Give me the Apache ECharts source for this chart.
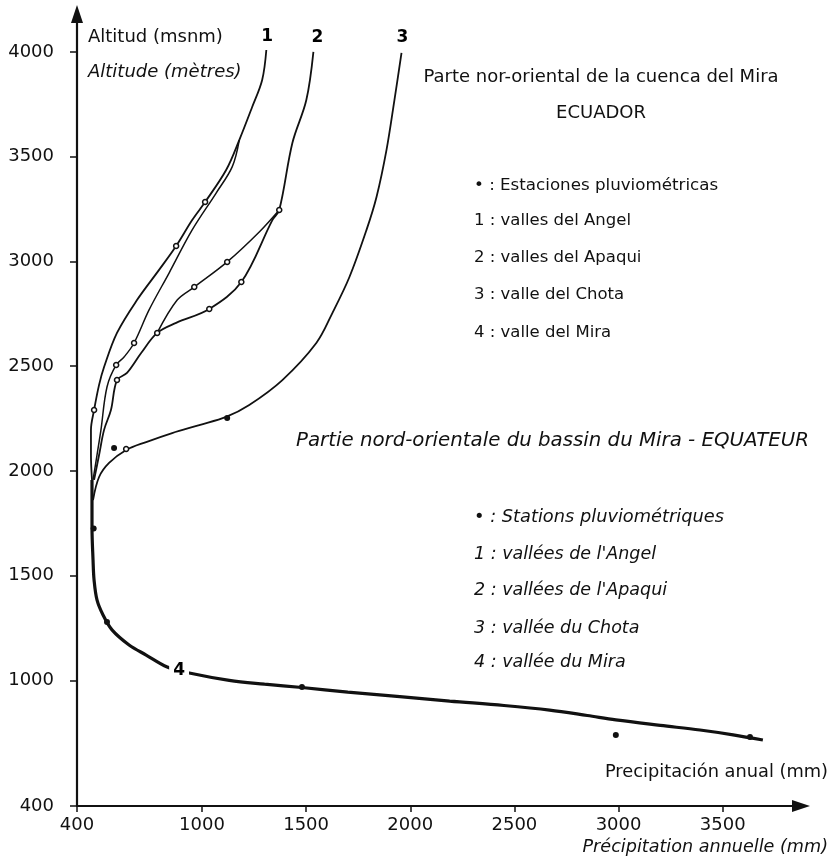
<!DOCTYPE html>
<html>
<head>
<meta charset="utf-8">
<script src="https://cdn.jsdelivr.net/npm/echarts@6/dist/echarts.min.js"></script>
<style>html,body{margin:0;padding:0;background:#fff}#c{width:837px;height:858px}</style>
</head>
<body>
<div id="c"></div>
<script>
// ---- data (precipitation mm, altitude m) ----
const xTicks = [400, 1000, 1500, 2000, 2500, 3000, 3500];
const yTicks = [400, 1000, 1500, 2000, 2500, 3000, 3500, 4000];

const curve1 = [[472,1957],[467,2076],[467,2196],[482,2291],[506,2411],[530,2496],[592,2659],[688,2816],[794,2960],[876,3074],[953,3198],[1015,3284],[1116,3437],[1179,3580],[1241,3738],[1289,3867],[1309,4010]];
const curve1b = [[477,1957],[496,2076],[515,2196],[544,2401],[588,2506],[626,2544],[674,2611],[746,2769],[842,2945],[953,3151],[1068,3327],[1145,3452],[1179,3580]];
const curve2 = [[482,1957],[506,2076],[530,2196],[563,2291],[592,2434],[640,2468],[708,2563],[785,2659],[876,2707],[1035,2773],[1189,2902],[1338,3198],[1371,3246],[1434,3566],[1501,3771],[1535,4001]];
const curve2b = [[785,2659],[881,2816],[963,2878],[1121,2998],[1275,3141],[1371,3246]];
const curve3 = [[477,1861],[506,1971],[554,2038],[636,2100],[732,2138],[857,2181],[987,2219],[1116,2258],[1227,2315],[1386,2434],[1549,2611],[1626,2754],[1708,2926],[1790,3151],[1838,3308],[1886,3533],[1924,3771],[1958,3996]];
const curve4 = [[472,1957],[472,1732],[477,1575],[482,1479],[496,1384],[525,1312],[568,1241],[650,1169],[732,1121],[833,1064],[939,1035],[1131,1000],[1300,982],[1480,966],[1700,944],[1950,922],[2189,901],[2450,880],[2669,858],[2850,832],[2987,811],[3200,785],[3391,763],[3550,740],[3693,715]];

const stationsOpen = [[482,2291],[876,3074],[1015,3284],[588,2506],[674,2611],[592,2434],[785,2659],[1035,2773],[1189,2902],[1371,3246],[963,2878],[1121,2998],[636,2105]];
const stationsFilled = [[480,1725],[544,1279],[1480,968],[2987,739],[3631,730],[578,2110],[1121,2253]];

const curveLabels = [
  {name:'1', value:[1313,4072]},
  {name:'2', value:[1554,4068]},
  {name:'3', value:[1962,4068]}
];
const curve4Label = [{name:'4', value:[890,1049]}];

const FONT = '"DejaVu Sans", sans-serif';

const chart = echarts.init(document.getElementById('c'), null, {renderer:'canvas'});

function lineSeries(data, w) {
  return {type:'line', data:data, smooth:0.35, showSymbol:false, symbol:'none',
    lineStyle:{color:'#111', width:w}, silent:true, z:2};
}

function txt(x, y, text, opts) {
  opts = opts || {};
  return {type:'text', x:x, y:y, z:10,
    style:{text:text, fill:'#111',
      font:(opts.italic?'italic ':'') + (opts.bold?'bold ':'') + (opts.size||16) + 'px ' + FONT,
      textAlign:opts.align||'left', textVerticalAlign:'middle'}};
}

const option = {
  animation:false,
  backgroundColor:'#fff',
  grid:{left:77, right:36, top:14, bottom:52},
  xAxis:{type:'value', min:400, max:3876,
    axisLine:{show:true, onZero:false, symbol:['none','triangle'], symbolSize:[12,18], lineStyle:{color:'#111', width:2.2}},
    axisTick:{show:true, customValues:xTicks, length:6, lineStyle:{color:'#111', width:1.5}},
    axisLabel:{customValues:xTicks, color:'#111', fontSize:18, fontFamily:FONT, margin:10, formatter:function(v){return String(v);}},
    splitLine:{show:false}},
  yAxis:{type:'value', min:400, max:4182,
    axisLine:{show:true, onZero:false, symbol:['none','triangle'], symbolSize:[12,18], lineStyle:{color:'#111', width:2.2}},
    axisTick:{show:true, customValues:yTicks, length:7, lineStyle:{color:'#111', width:1.5}},
    axisLabel:{customValues:yTicks, color:'#111', fontSize:18, fontFamily:FONT, margin:23, formatter:function(v){return String(v);}},
    splitLine:{show:false}},
  series:[
    lineSeries(curve1, 1.8),
    lineSeries(curve1b, 1.5),
    lineSeries(curve2, 1.8),
    lineSeries(curve2b, 1.5),
    lineSeries(curve3, 1.8),
    lineSeries(curve4, 3.2),
    {type:'scatter', data:stationsOpen, symbol:'circle', symbolSize:5,
      itemStyle:{color:'#fff', borderColor:'#111', borderWidth:1.5, opacity:1}, z:4, silent:true},
    {type:'scatter', data:stationsFilled, symbol:'circle', symbolSize:6,
      itemStyle:{color:'#111', opacity:1}, z:4, silent:true},
    {type:'scatter', data:curveLabels, symbolSize:0, z:5, silent:true, itemStyle:{opacity:1},
      label:{show:true, position:'inside', formatter:'{b}', color:'#000', opacity:1, fontSize:17, fontWeight:'bold', fontFamily:FONT}},
    {type:'scatter', data:curve4Label, symbolSize:0, z:5, silent:true, itemStyle:{opacity:1},
      label:{show:true, position:'inside', formatter:'{b}', color:'#000', opacity:1, fontSize:17, fontWeight:'bold', fontFamily:FONT,
        backgroundColor:'#fff', padding:[1,4]}}
  ],
  graphic:[
    txt(88, 37, 'Altitud (msnm)', {size:18}),
    txt(88, 72, 'Altitude (mètres)', {size:18, italic:true}),
    txt(601, 77, 'Parte nor-oriental de la cuenca del Mira', {size:18, align:'center'}),
    txt(601, 113, 'ECUADOR', {size:18, align:'center'}),
    txt(474, 186, '• : Estaciones pluviométricas', {size:16.7}),
    txt(474, 221, '1 : valles del Angel', {size:16.5}),
    txt(474, 258, '2 : valles del Apaqui', {size:16.5}),
    txt(474, 295, '3 : valle del Chota', {size:16.5}),
    txt(474, 333, '4 : valle del Mira', {size:16.5}),
    txt(296, 441, 'Partie nord-orientale du bassin du Mira - EQUATEUR', {size:19.8, italic:true}),
    txt(474, 517, '• : Stations pluviométriques', {size:17.8, italic:true}),
    txt(474, 554, "1 : vallées de l'Angel", {size:17.5, italic:true}),
    txt(474, 590, "2 : vallées de l'Apaqui", {size:17.5, italic:true}),
    txt(474, 628, '3 : vallée du Chota', {size:17.5, italic:true}),
    txt(474, 662, '4 : vallée du Mira', {size:17.5, italic:true}),
    txt(828, 772, 'Precipitación anual (mm)', {size:17.8, align:'right'}),
    txt(828, 847, 'Précipitation annuelle (mm)', {size:17.6, align:'right', italic:true})
  ]
};
chart.setOption(option);
</script>
</body>
</html>
